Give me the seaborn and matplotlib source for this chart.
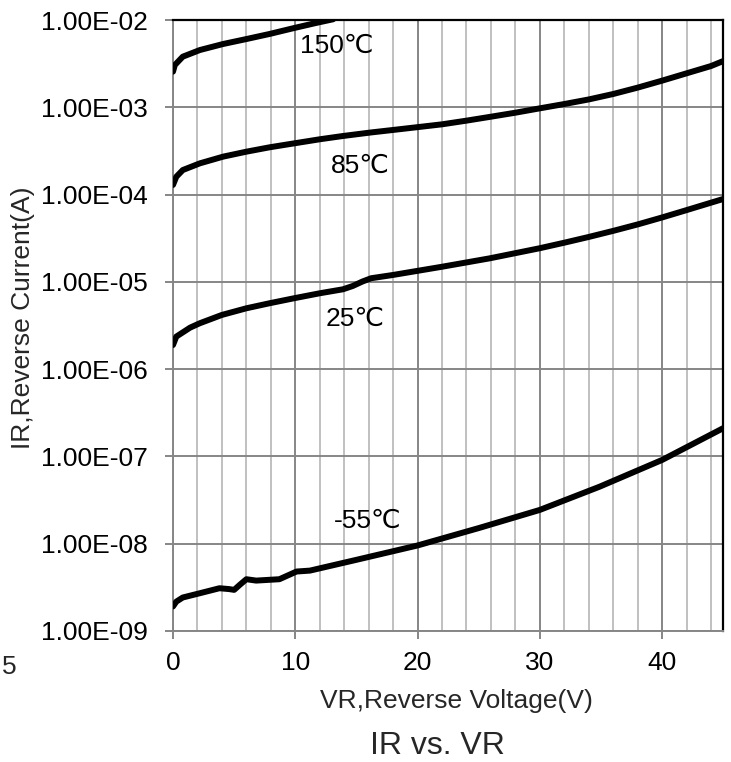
import numpy as np
import pandas as pd
import matplotlib
matplotlib.use("Agg")
import matplotlib.pyplot as plt
import matplotlib.ticker as mticker
import seaborn as sns

# ---- data ----
v_150 = [0, 0.15, 0.8, 2.2, 4.1, 6.0, 7.9, 9.9, 11.7, 13.1]
i_150 = [2.56e-3, 3.05e-3, 3.80e-3, 4.53e-3, 5.31e-3, 6.05e-3, 6.92e-3, 8.09e-3, 9.25e-3, 1.02e-2]

v_85 = [0, 0.27, 0.8, 2.2, 4.1, 6.0, 7.9, 9.9, 12, 13.9, 16.1, 18, 19.9, 22, 24, 26,
        28, 30, 32, 34, 36, 38, 40, 42, 44, 45]
i_85 = [1.29e-4, 1.60e-4, 1.91e-4, 2.28e-4, 2.72e-4, 3.10e-4, 3.48e-4, 3.86e-4, 4.30e-4,
        4.69e-4, 5.13e-4, 5.50e-4, 5.90e-4, 6.38e-4, 7.03e-4, 7.80e-4, 8.67e-4, 9.73e-4,
        1.09e-3, 1.23e-3, 1.42e-3, 1.68e-3, 2.02e-3, 2.45e-3, 2.97e-3, 3.39e-3]

v_25 = [0, 0.27, 1.4, 2.2, 4.0, 6.0, 7.9, 9.9, 12, 13.9, 14.7, 15.5, 16.2, 18, 19.9, 22,
        25.9, 30, 32, 34, 36, 38, 40, 42, 45]
i_25 = [1.89e-6, 2.36e-6, 2.99e-6, 3.36e-6, 4.18e-6, 4.98e-6, 5.69e-6, 6.49e-6, 7.40e-6,
        8.22e-6, 8.97e-6, 1.01e-5, 1.10e-5, 1.20e-5, 1.33e-5, 1.49e-5, 1.86e-5, 2.43e-5,
        2.81e-5, 3.27e-5, 3.84e-5, 4.55e-5, 5.47e-5, 6.64e-5, 8.91e-5]

v_m55 = [0, 0.27, 0.8, 2.2, 3.8, 4.6, 5.0, 5.45, 6.0, 6.8, 8.7, 9.5, 10.1, 11.2, 14.9,
         20, 25, 30, 34.9, 40, 45]
i_m55 = [1.91e-9, 2.17e-9, 2.42e-9, 2.71e-9, 3.09e-9, 3.02e-9, 2.96e-9, 3.37e-9, 3.92e-9,
         3.78e-9, 3.92e-9, 4.40e-9, 4.80e-9, 4.92e-9, 6.49e-9, 9.55e-9, 1.51e-8, 2.44e-8,
         4.51e-8, 9.12e-8, 2.11e-7]

series_names = ["150℃", "85℃", "25℃", "-55℃"]
label_v = [13.4, 15.3, 14.9, 15.9]
label_i = [5.0e-3, 2.14e-4, 3.8e-6, 1.82e-8]

x_ticks = [0, 10, 20, 30, 40]
y_ticks = [1e-9, 1e-8, 1e-7, 1e-6, 1e-5, 1e-4, 1e-3, 1e-2]
y_tick_labels = ["1.00E-09", "1.00E-08", "1.00E-07", "1.00E-06",
                 "1.00E-05", "1.00E-04", "1.00E-03", "1.00E-02"]

# ---- build long-form table ----
frames = []
for name, v, i in zip(series_names, [v_150, v_85, v_25, v_m55], [i_150, i_85, i_25, i_m55]):
    frames.append(pd.DataFrame({"VR": v, "IR": i, "T": name}))
df = pd.concat(frames, ignore_index=True)

sns.set_style("white")
plt.rcParams["font.family"] = ["Liberation Sans", "DejaVu Sans"]

fig = plt.figure(figsize=(7.31, 7.62), dpi=100)
ax = fig.add_axes([173 / 731, 1 - 631 / 762, (723.3 - 173) / 731, (631 - 20) / 762])

major_grey = "#868686"
minor_grey = "#c0c0c0"

sns.lineplot(data=df, x="VR", y="IR", hue="T", units="T", estimator=None, sort=False,
             palette=["black"] * 4, legend=False, linewidth=4.3, ax=ax, zorder=3)
for ln in ax.get_lines():
    ln.set_solid_joinstyle("round")
    ln.set_solid_capstyle("round")

ax.set_yscale("log")
ax.set_xlim(0, 45)
ax.set_ylim(1e-9, 1e-2)

ax.set_xticks(x_ticks)
ax.set_xticklabels([str(t) for t in x_ticks])
ax.xaxis.set_minor_locator(mticker.MultipleLocator(2))
ax.set_yticks(y_ticks)
ax.set_yticklabels(y_tick_labels)
ax.yaxis.set_minor_locator(mticker.NullLocator())

ax.grid(which="major", axis="both", color=major_grey, linewidth=1.4, zorder=1)
ax.grid(which="minor", axis="x", color=minor_grey, linewidth=1.4, zorder=0)
ax.set_axisbelow(True)

ax.tick_params(axis="both", which="major", direction="out", length=6, width=1.4,
               color=major_grey, labelsize=19, labelcolor="black")
ax.tick_params(axis="y", which="major", pad=12)
ax.tick_params(axis="x", which="major", pad=8.5)
ax.tick_params(axis="x", which="minor", length=0)
ax.tick_params(left=True, bottom=True)

for side in ["left", "bottom"]:
    ax.spines[side].set_color(major_grey)
    ax.spines[side].set_linewidth(1.4)
for side in ["top", "right"]:
    ax.spines[side].set_color("black")
    ax.spines[side].set_linewidth(1.6)
    ax.spines[side].set_visible(True)

ax.set_xlabel("")
ax.set_ylabel("")

for name, lv, li in zip(series_names, label_v, label_i):
    ax.text(lv, li, name, fontsize=19, ha="center", va="center", color="black", zorder=4)

W, H = 731, 762
fig.text(456 / W, 1 - 701 / H, "VR,Reverse Voltage(V)", fontsize=19, ha="center", va="center")
fig.text(23 / W, 1 - 318 / H, "IR,Reverse Current(A)", fontsize=19, ha="center", va="center",
         rotation=90)
fig.text(437 / W, 1 - 746 / H, "IR vs. VR", fontsize=23, ha="center", va="center")
fig.text(9.5 / W, 1 - 667 / H, "5", fontsize=19, ha="center", va="center")

fig.savefig("out.png", dpi=100)
